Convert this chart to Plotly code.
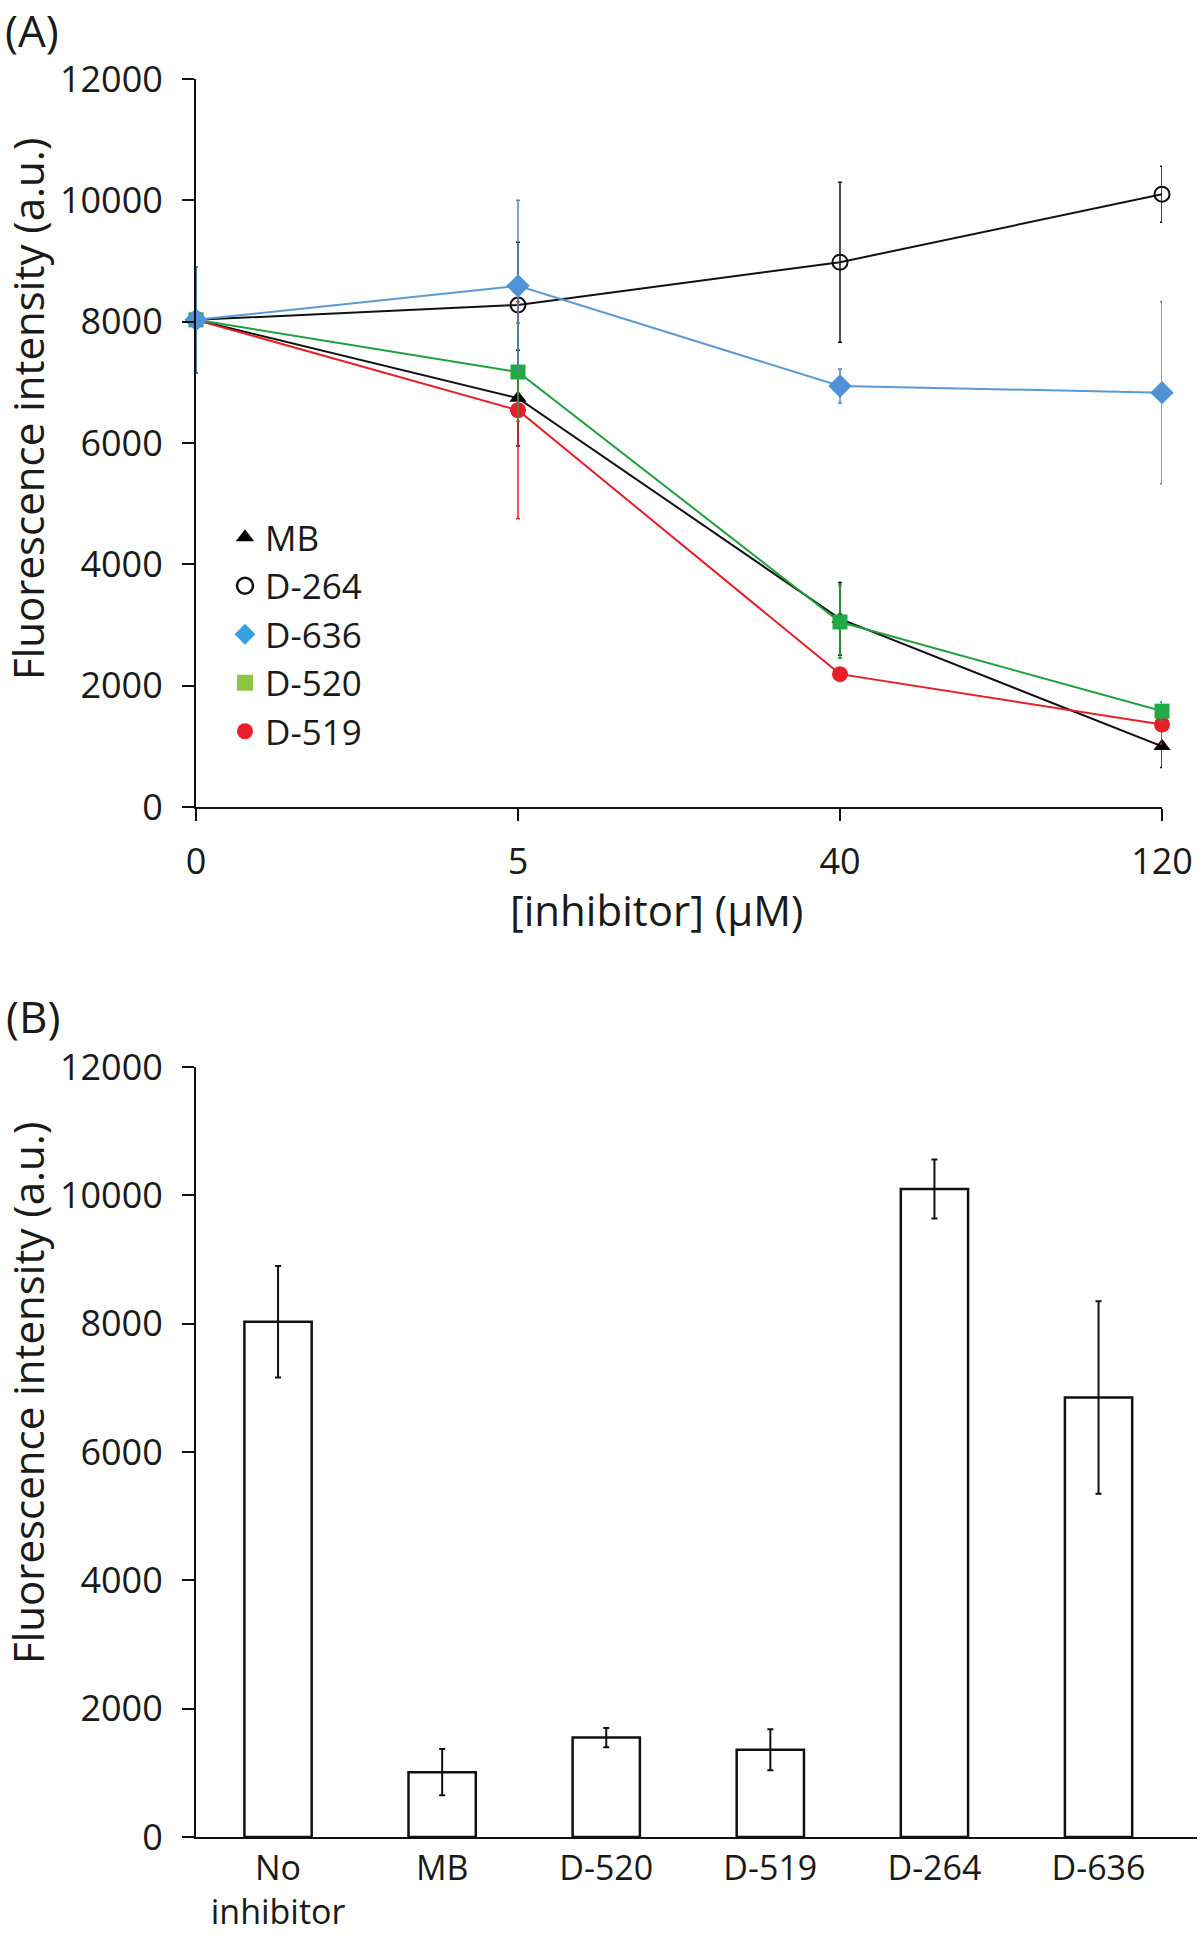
import plotly.graph_objects as go

# ---------------- data ----------------
conc_labels = ["0", "5", "40", "120"]

mb_vals = [8030, 6740, 3100, 1000]
mb_err = [870, 790, 600, 350]
d264_vals = [8030, 8275, 8980, 10100]
d264_err = [870, 1035, 1320, 460]
d636_vals = [8030, 8590, 6940, 6830]
d636_err = [870, 1410, 280, 1500]
d520_vals = [8030, 7170, 3050, 1580]
d520_err = [870, 810, 600, 150]
d519_vals = [8030, 6540, 2190, 1360]
d519_err = [870, 1790, 100, 320]

bar_cats = ["No<br>inhibitor", "MB", "D-520", "D-519", "D-264", "D-636"]
bar_vals = [8030, 1010, 1550, 1360, 10100, 6850]
bar_err = [870, 360, 150, 320, 460, 1500]

y_ticks = [0, 2000, 4000, 6000, 8000, 10000, 12000]

FONT = "Open Sans"
TXT = "#1a1a1a"
W, H = 1200, 1938

def px_x(p):
    return p / W

def px_y(p):
    return 1 - p / H

fig = go.Figure()

series = [
    ("D-264", d264_vals, d264_err, "#111111",
     dict(symbol="circle-open", size=15, color="#111111", line=dict(width=2, color="#111111")), "#111111"),
    ("MB", mb_vals, mb_err, "#111111",
     dict(symbol="triangle-up", size=15, color="#000000"), "#111111"),
    ("D-519", d519_vals, d519_err, "#E52028",
     dict(symbol="circle", size=16, color="#E52028"), "#E52028"),
    ("D-520", d520_vals, d520_err, "#1FA03C",
     dict(symbol="square", size=15, color="#22AA44"), "#1FA03C"),
    ("D-636", d636_vals, d636_err, "#5B9BD5",
     dict(symbol="diamond", size=18, color="#4E93D6"), "#5A80C4"),
]

for name, vals, err, lc, mk, ec in series:
    fig.add_trace(go.Scatter(
        x=conc_labels, y=vals, mode="lines+markers", name=name,
        line=dict(color=lc, width=2), marker=mk,
        error_y=dict(type="data", array=err, visible=True, color=ec, thickness=1.5, width=2),
        xaxis="x", yaxis="y", showlegend=False, cliponaxis=False,
    ))

legend_items = [
    ("MB", dict(symbol="triangle-up", size=26, color="#000000")),
    ("D-264", dict(symbol="circle-open", size=16, color="#111111", line=dict(width=2.5, color="#111111"))),
    ("D-636", dict(symbol="diamond", size=30, color="#35A0E0")),
    ("D-520", dict(symbol="square", size=22, color="#8CC63F")),
    ("D-519", dict(symbol="circle", size=21, color="#E8202A")),
]
for i, (name, mk) in enumerate(legend_items):
    fig.add_trace(go.Scatter(
        x=[None], y=[None], mode="markers", name=name, marker=mk,
        xaxis="x", yaxis="y", showlegend=True, legendgroup=f"g{i}",
    ))

fig.add_trace(go.Bar(
    x=bar_cats, y=bar_vals, width=0.41,
    marker=dict(color="white", line=dict(color="#111111", width=2.5)),
    error_y=dict(type="data", array=bar_err, visible=True, color="#111111", thickness=2, width=3),
    xaxis="x2", yaxis="y2", showlegend=False,
))

axis_common = dict(
    showgrid=False, zeroline=False, showline=True, linecolor="#111111", linewidth=2,
    ticks="outside", tickcolor="#111111", tickwidth=2, ticklen=12, automargin=False,
    tickfont=dict(family=FONT, size=36, color=TXT),
)

fig.update_layout(
    width=W, height=H, autosize=False,
    margin=dict(l=0, r=0, t=0, b=0, autoexpand=False),
    paper_bgcolor="white", plot_bgcolor="white",
    font=dict(family=FONT, color=TXT),
    xaxis=dict(
        domain=[px_x(196), px_x(1162)], anchor="y", type="category",
        range=[0, 3], ticklabelstandoff=10, **axis_common,
    ),
    yaxis=dict(
        domain=[px_y(807), px_y(79)], anchor="x", range=[0, 12000],
        tickvals=y_ticks, tickformat="d", ticklabelstandoff=12, **axis_common,
    ),
    xaxis2=dict(
        domain=[px_x(196), px_x(1197)], anchor="y2", type="category",
        range=[-0.5, 5.6], **{**axis_common, "ticks": "",
                               "tickfont": dict(family=FONT, size=34, color=TXT)},
        ticklabelstandoff=0,
    ),
    yaxis2=dict(
        domain=[px_y(1837), px_y(1067)], anchor="x2", range=[0, 12000],
        tickvals=y_ticks, tickformat="d", ticklabelstandoff=12, **axis_common,
    ),
    legend=dict(
        x=px_x(225), y=px_y(508), xanchor="left", yanchor="top",
        font=dict(family=FONT, size=35, color=TXT), bgcolor="rgba(0,0,0,0)",
        itemsizing="trace", tracegroupgap=0,
    ),
)

annotations = [
    dict(text="(A)", x=px_x(3), y=px_y(30), xanchor="left", yanchor="middle",
         font=dict(size=44, family=FONT, color=TXT)),
    dict(text="(B)", x=px_x(4), y=px_y(1016), xanchor="left", yanchor="middle",
         font=dict(size=44, family=FONT, color=TXT)),
    dict(text="Fluorescence intensity (a.u.)", x=px_x(27), y=px_y(409), textangle=-90,
         xanchor="center", yanchor="middle", font=dict(size=42, family=FONT, color=TXT)),
    dict(text="Fluorescence intensity (a.u.)", x=px_x(27), y=px_y(1393), textangle=-90,
         xanchor="center", yanchor="middle", font=dict(size=42, family=FONT, color=TXT)),
    dict(text="[inhibitor] (μM)", x=px_x(656), y=px_y(910), xanchor="center", yanchor="middle",
         font=dict(size=42, family=FONT, color=TXT)),
]
for a in annotations:
    a.update(xref="paper", yref="paper", showarrow=False)
fig.update_layout(annotations=annotations)

fig.write_html(
    "out.html",
    config={"displayModeBar": False},
    post_script="document.body.style.margin='0';document.body.style.overflow='hidden';",
)
